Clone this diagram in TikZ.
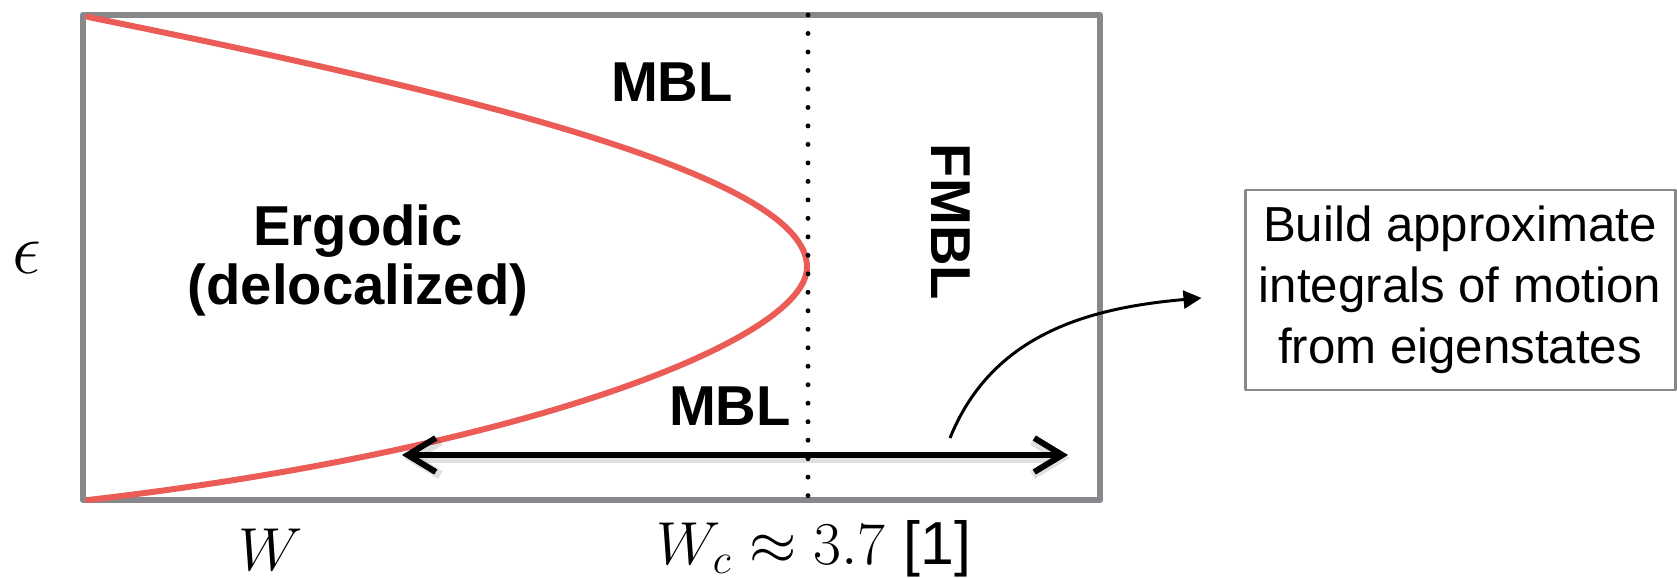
\documentclass[tikz,border=0pt]{standalone}
\usepackage{fontspec}
\setsansfont{Liberation Sans}
\usetikzlibrary{arrows.meta}
\definecolor{chalk}{RGB}{134,136,140}
\definecolor{phase}{RGB}{236,92,86}
\begin{document}
\begin{tikzpicture}[line join=round,
	frame/.style={draw=chalk,line width=1.8pt},
	region/.style={font=\sffamily\bfseries\fontsize{16}{16.8}\selectfont,align=center,inner sep=0pt},
	axis/.style={font=\fontsize{17.28}{20}\selectfont,inner sep=0pt},
	scalearrow/.style={line width=1.7pt,{Straight Barb[length=2.8mm,width=3.4mm]}-{Straight Barb[length=2.8mm,width=3.4mm]}},
	callout/.style={line width=.85pt,-{Triangle[length=1.8mm,width=1.8mm]}},
	infobox/.style={draw=chalk,line width=.85pt,minimum width=4.3cm,minimum height=2cm,align=center,
		font=\sffamily\fontsize{14}{17.4}\selectfont}]
	\useasboundingbox (0,0) rectangle (16.77,5.77);
	\draw[frame] (0.83,0.77) rectangle (11.00,5.62);
	\draw[phase,line width=1.7pt,line cap=round] (0.88,5.60) .. controls (5.00,4.77) and (8.07,3.97) .. (8.07,3.10)
		.. controls (8.07,2.37) and (5.20,1.27) .. (0.88,0.77);
	\draw[line width=1.4pt,line cap=round,dash pattern=on 0pt off 5.26pt] (8.08,5.62) -- (8.08,0.81);
	\node[axis,font=\fontsize{20.74}{24}\selectfont] (eps) at (0.27,3.19) {$\epsilon$};
	\node[axis,anchor=base] (w) at (2.71,0.07) {$W$};
	\node[axis,anchor=base] (wc) at (8.14,0.13) {$W_c\approx 3.7$\ \textsf{[1]}};
	\node[region,anchor=base] (mbltop) at (6.72,4.75) {MBL};
	\node[region,anchor=base] (mblbot) at (7.30,1.52) {MBL};
	\node[region] (ergodic) at (3.58,3.17) {Ergodic\\(delocalized)};
	\node[region,rotate=-90] (fmbl) at (9.51,3.55) {FMBL};
	\node[infobox] (box) at (14.60,2.87) {Build approximate\\integrals of motion\\from eigenstates};
	\coordinate (wl) at (4.02,1.22);
	\coordinate (wr) at (10.68,1.22);
	% soft shadow under the arrow
	\draw[scalearrow,black,opacity=.12,line width=2.6pt,transform canvas={shift={(0.015,-0.03)}}] (wl) -- (wr);
	\draw[scalearrow] (wl) -- (wr);
	\coordinate (src) at (9.50,1.39);
	\coordinate (tip) at ([xshift=-4.2mm,yshift=-.8mm]box.west);
	\draw[callout] (src) to[out=68,in=185] (tip);
\end{tikzpicture}
\end{document}
